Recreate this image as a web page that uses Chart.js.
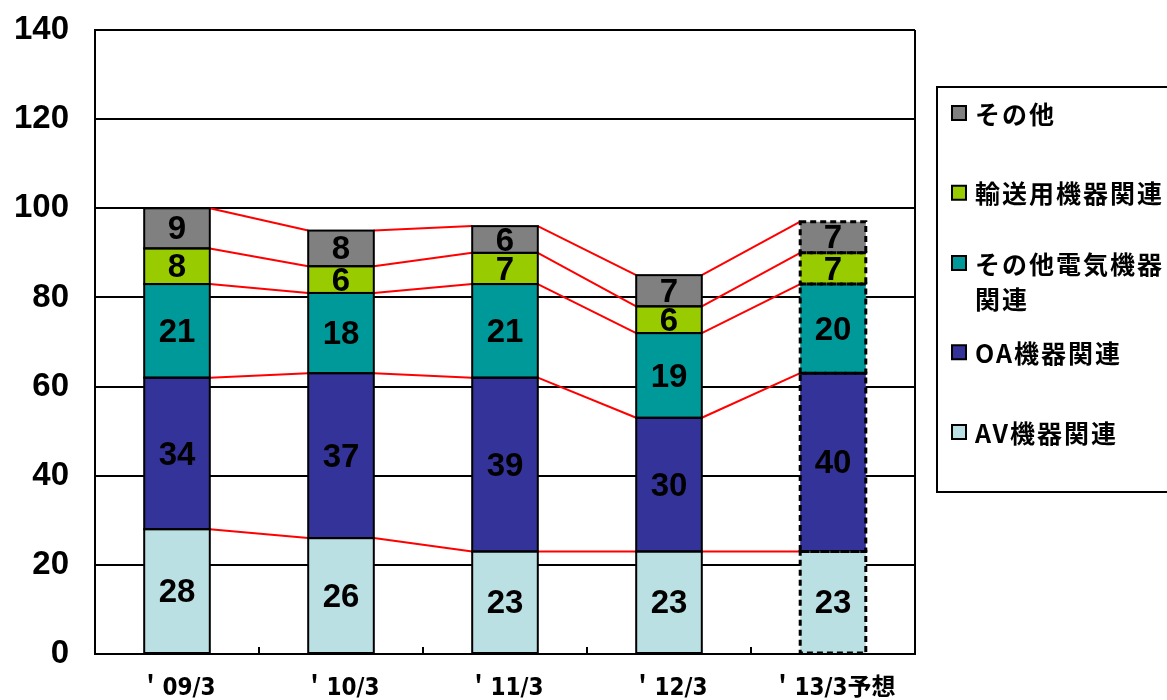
<!DOCTYPE html>
<html>
<head>
<meta charset="utf-8">
<script src="https://cdn.jsdelivr.net/npm/chart.js@4.4.0/dist/chart.umd.min.js"></script>
<style>
    html, body { margin: 0; padding: 0; background: #fff; }
    #wrap { width: 1167px; height: 700px; position: relative; }
</style>
</head>
<body>
<div id="wrap"><canvas id="chart"></canvas></div>
<script>
// Chart data
const categories = ['＇09/3', '＇10/3', '＇11/3', '＇12/3', '＇13/3予想'];
const avValues = [28, 26, 23, 23, 23];
const oaValues = [34, 37, 39, 30, 40];
const otherElecValues = [21, 18, 21, 19, 20];
const transportValues = [8, 6, 7, 6, 7];
const otherValues = [9, 8, 6, 7, 7];
const yTickValues = [0, 20, 40, 60, 80, 100, 120, 140];

const seriesNames = ['AV機器関連', 'OA機器関連', 'その他電気機器関連', '輸送用機器関連', 'その他'];
const seriesColors = ['#BBE0E3', '#333399', '#009999', '#99CC00', '#808080'];
const seriesValues = [avValues, oaValues, otherElecValues, transportValues, otherValues];
const forecastIndex = 4; // last bar is a forecast (dashed outline)

const numFont = "bold 33px 'Liberation Sans', Arial, sans-serif";
const jpFont = "'Noto Sans CJK JP', sans-serif";

// Segment outlines, values, red connector lines, legend box
const decorPlugin = {
    id: 'decor',
    afterDatasetsDraw(chart) {
        const ctx = chart.ctx;
        const area = chart.chartArea;
        const xScale = chart.scales.x;
        const metas = chart.data.datasets.map((d, i) => chart.getDatasetMeta(i));

        ctx.save();

        // red lines between bar tops
        ctx.strokeStyle = '#FF0000';
        ctx.lineWidth = 2;
        for (let c = 0; c < categories.length - 1; c++) {
            metas.forEach((meta) => {
                const a = meta.data[c];
                const b = meta.data[c + 1];
                ctx.beginPath();
                ctx.moveTo(a.x + a.width / 2, a.y);
                ctx.lineTo(b.x - b.width / 2, b.y);
                ctx.stroke();
            });
        }

        // segment outlines (dashed for the forecast bar)
        ctx.strokeStyle = '#000';
        metas.forEach((meta) => {
            meta.data.forEach((el, j) => {
                if (j === forecastIndex) {
                    ctx.lineWidth = 3;
                    ctx.setLineDash([6, 4]);
                } else {
                    ctx.lineWidth = 2;
                    ctx.setLineDash([]);
                }
                ctx.strokeRect(el.x - el.width / 2, el.y, el.width, el.base - el.y);
            });
        });
        ctx.setLineDash([]);

        // values inside segments
        ctx.fillStyle = '#000';
        ctx.font = numFont;
        ctx.textAlign = 'center';
        ctx.textBaseline = 'middle';
        metas.forEach((meta, i) => {
            meta.data.forEach((el, j) => {
                ctx.fillText(String(seriesValues[i][j]), el.x, (el.y + el.base) / 2 + 2);
            });
        });

        // right border of the plot
        ctx.strokeStyle = '#000';
        ctx.lineWidth = 2;
        ctx.beginPath();
        ctx.moveTo(area.right, area.top);
        ctx.lineTo(area.right, area.bottom);
        ctx.stroke();

        // small inside ticks between categories
        for (let c = 1; c < categories.length; c++) {
            const x = Math.round((xScale.getPixelForValue(c - 1) + xScale.getPixelForValue(c)) / 2);
            ctx.beginPath();
            ctx.moveTo(x, area.bottom);
            ctx.lineTo(x, area.bottom - 7);
            ctx.stroke();
        }

        // legend box
        const boxLeft = 937, boxTop = 87, boxBottom = 492;
        ctx.strokeRect(boxLeft, boxTop, 300, boxBottom - boxTop);

        ctx.font = 'bold 25px ' + jpFont;
        ctx.letterSpacing = '2px';
        ctx.textAlign = 'left';
        const maxWidth = 1167 - 975;
        const lineHeight = 35;
        for (let k = 0; k < seriesNames.length; k++) {
            const idx = seriesNames.length - 1 - k; // top = last series
            // wrap text by characters
            const lines = [];
            let cur = '';
            for (const ch of seriesNames[idx]) {
                if (cur && ctx.measureText(cur + ch).width > maxWidth) {
                    lines.push(cur);
                    cur = ch;
                } else {
                    cur += ch;
                }
            }
            lines.push(cur);
            const slotCenter = 113 + k * 79.75;
            const firstY = slotCenter - (lines.length - 1) * lineHeight / 2 + (lines.length > 1 ? 8 : 0);
            ctx.fillStyle = seriesColors[idx];
            ctx.fillRect(952, firstY - 7, 14, 14);
            ctx.lineWidth = 2;
            ctx.strokeRect(952, firstY - 7, 14, 14);
            ctx.fillStyle = '#000';
            lines.forEach((ln, li) => {
                ctx.fillText(ln, 975, firstY + li * lineHeight + 1);
            });
        }
        ctx.letterSpacing = '0px';
        ctx.restore();
    }
};

const ctx = document.getElementById('chart').getContext('2d');
const chart = new Chart(ctx, {
    type: 'bar',
    data: {
        labels: categories,
        datasets: seriesNames.map((name, i) => ({
            label: name,
            data: seriesValues[i],
            backgroundColor: seriesColors[i],
            borderWidth: 0,
            barPercentage: 0.4,
            categoryPercentage: 1.0
        }))
    },
    options: {
        responsive: true,
        maintainAspectRatio: false,
        animation: false,
        layout: { padding: { top: 30, right: 252, bottom: 0, left: 0 } },
        plugins: {
            legend: { display: false },
            tooltip: { enabled: false }
        },
        scales: {
            x: {
                stacked: true,
                grid: { display: false },
                border: { display: true, color: '#000', width: 2 },
                ticks: {
                    color: '#000',
                    padding: 12,
                    maxRotation: 0,
                    font: { family: "'Liberation Sans Narrow', 'DejaVu Sans Condensed', 'Noto Sans CJK JP', sans-serif", size: 24, weight: 'bold' }
                },
                afterFit: (scale) => { scale.height = 46; scale.paddingLeft = 0; scale.paddingRight = 0; }
            },
            y: {
                stacked: true,
                min: 0,
                max: 140,
                afterBuildTicks: (scale) => { scale.ticks = yTickValues.map((v) => ({ value: v })); },
                grid: { color: '#000', lineWidth: 2, drawTicks: false },
                border: { display: true, color: '#000', width: 2 },
                ticks: {
                    color: '#000',
                    padding: 26,
                    font: { family: "'Liberation Sans', Arial, sans-serif", size: 33, weight: 'bold' }
                },
                afterFit: (scale) => { scale.width = 95; scale.paddingTop = 0; scale.paddingBottom = 0; }
            }
        }
    },
    plugins: [decorPlugin]
});
</script>
</body>
</html>
